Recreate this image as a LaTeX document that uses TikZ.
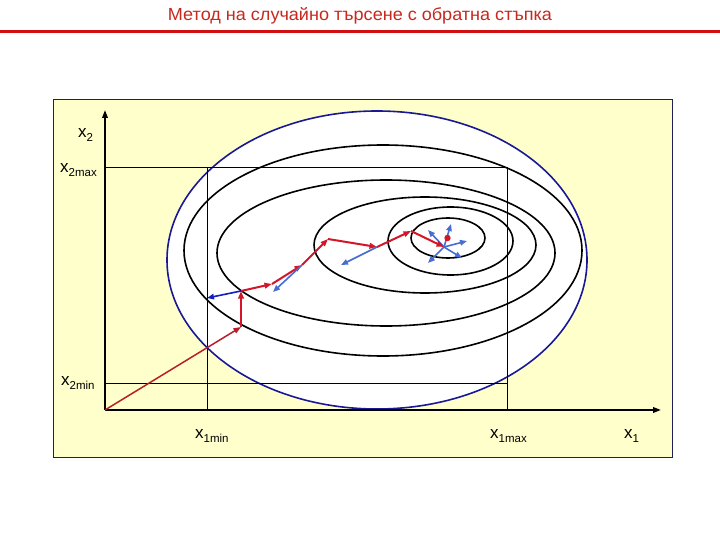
\documentclass[tikz,border=0pt]{standalone}
\usepackage{fontspec}
\setmainfont{Liberation Sans}
\usetikzlibrary{arrows.meta}
\definecolor{titlered}{RGB}{200,40,30}
\definecolor{linered}{RGB}{208,16,16}
\definecolor{panelyellow}{RGB}{255,255,204}
\definecolor{panelborder}{RGB}{30,30,90}
\definecolor{ellblue}{RGB}{25,25,150}
\definecolor{arrred}{RGB}{212,22,40}
\definecolor{arrdark}{RGB}{185,30,40}
\definecolor{lblue}{RGB}{70,110,210}
\definecolor{dblue}{RGB}{20,30,190}
\newcommand{\xlab}[1]{x\raisebox{-4bp}{\fontsize{11.5bp}{12bp}\selectfont #1}}
\newsavebox{\titlebox}
\newcommand{\fittitle}[1]{\sbox\titlebox{#1}\pgfmathsetmacro{\tscale}{385.44/\the\wd\titlebox}\scalebox{\tscale}[1]{\usebox\titlebox}}
\tikzset{
  contour/.style={draw=black, line width=1.6bp},
  gridline/.style={draw=black, line width=0.8bp},
  axisline/.style={draw=black, line width=1.8bp, -{Triangle[length=8bp,width=5.5bp]}},
  redstep/.style={draw=arrred, line width=2bp, -{Triangle[length=7.5bp,width=5.5bp]}},
  firststep/.style={draw=arrdark, line width=1.5bp, -{Triangle[length=7.5bp,width=5.5bp]}},
  bluestep/.style={draw=lblue, line width=1.6bp, -{Triangle[length=7bp,width=5.5bp]}},
  darkbluestep/.style={draw=dblue, line width=1.6bp, -{Triangle[length=7bp,width=5.5bp]}},
  axlabel/.style={anchor=base west, inner sep=0pt, font=\fontsize{17bp}{20bp}\selectfont},
}
\begin{document}
\begin{tikzpicture}[x=1bp, y=-1bp]
\useasboundingbox (0,0) rectangle (720,540);
\fill[white] (0,0) rectangle (720,540);
% title
\node[anchor=base, inner sep=0pt, text=titlered, font=\fontsize{17.5bp}{20bp}\selectfont] (title) at (360,21) {\fittitle{Метод на случайно търсене с обратна стъпка}};
\draw[linered, line width=3bp] (0,31.5) -- (720,31.5);
% panel
\draw[panelborder, line width=0.8bp, fill=panelyellow] (53,99) rectangle (672,457);
% outer blue ellipse
\draw[ellblue, line width=1.6bp, fill=white] (377,260) ellipse [x radius=210bp, y radius=149bp];
% contour ellipses
\draw[contour] (383,250.5) ellipse [x radius=199bp, y radius=105.5bp];
\draw[contour] (386,253) ellipse [x radius=169bp, y radius=73bp];
\draw[contour] (425,245) ellipse [x radius=111bp, y radius=48bp];
\draw[contour] (450.5,241) ellipse [x radius=62.5bp, y radius=34bp];
\draw[contour] (448,238) ellipse [x radius=37bp, y radius=20bp];
% grid lines
\coordinate (O) at (105,410);
\coordinate (Ytip) at (105,110);
\coordinate (Xtip) at (661,410);
\coordinate (T1) at (105,167);
\coordinate (T2) at (507,167);
\coordinate (M1) at (105,383);
\coordinate (M2) at (507,383);
\coordinate (V1a) at (207,167);
\coordinate (V1b) at (207,410);
\coordinate (V2a) at (507,167);
\coordinate (V2b) at (507,410);
\draw[gridline] (T1) -- (T2);
\draw[gridline] (M1) -- (M2);
\draw[gridline] (V1a) -- (V1b);
\draw[gridline] (V2a) -- (V2b);
% axes
\draw[axisline] (O) -- (Ytip);
\draw[axisline] (O) -- (Xtip);
% labels
\node[axlabel] (lx2) at (78,138) {\xlab{2}};
\node[axlabel] (lx2max) at (60,173) {\xlab{2max}};
\node[axlabel] (lx2min) at (61,385) {\xlab{2min}};
\node[axlabel] (lx1min) at (195,438) {\xlab{1min}};
\node[axlabel] (lx1max) at (490,438) {\xlab{1max}};
\node[axlabel] (lx1) at (624,438) {\xlab{1}};
% search path
\coordinate (P1) at (241,327);
\coordinate (P2) at (241,291);
\coordinate (B1) at (207,298);
\coordinate (P3) at (272,284);
\coordinate (P4) at (302,265);
\coordinate (B2) at (273,292);
\coordinate (P5) at (328,239);
\coordinate (P6) at (377,247);
\coordinate (B3) at (341,265);
\coordinate (P7) at (411,231);
\coordinate (C) at (444,247);
\coordinate (S1) at (451,224);
\coordinate (S2) at (428,230);
\coordinate (S3) at (467,241);
\coordinate (S4) at (462,258);
\coordinate (S5) at (428,263);
\draw[firststep] (O) -- (P1);
\draw[redstep] (P1) -- (P2);
\draw[darkbluestep] (P2) -- (B1);
\draw[redstep] (P2) -- (P3);
\draw[redstep] (P3) -- (P4);
\draw[bluestep] (P4) -- (B2);
\draw[redstep] (P4) -- (P5);
\draw[redstep] (P5) -- (P6);
\draw[bluestep] (P6) -- (B3);
\draw[redstep] (P6) -- (P7);
\draw[bluestep] (C) -- (S1);
\draw[bluestep] (C) -- (S2);
\draw[bluestep] (C) -- (S3);
\draw[bluestep] (C) -- (S4);
\draw[bluestep] (C) -- (S5);
\draw[redstep] (P7) -- (C);
\fill[arrred] (447.5,238) circle (3.2bp);
\end{tikzpicture}
\end{document}
